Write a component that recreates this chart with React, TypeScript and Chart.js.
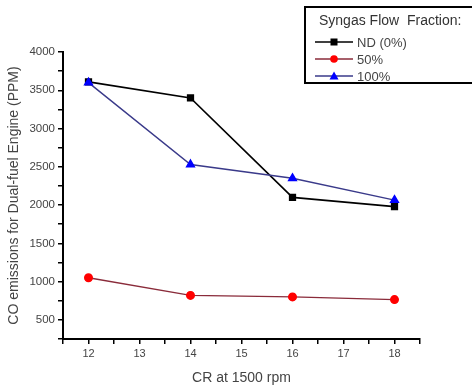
import React, { useEffect, useRef } from "react";
import { Chart, registerables } from "chart.js";

Chart.register(...registerables);

const crValues = [12, 14, 16, 18];
const nd0 = [3610, 3400, 2100, 1980];
const syn50 = [1050, 820, 800, 765];
const syn100 = [3600, 2530, 2350, 2065];
const seriesLabels = ["ND (0%)", "50%", "100%"];
const legendTitle = "Syngas Flow  Fraction:";
const xTitle = "CR at 1500 rpm";
const yTitle = "CO emissions for Dual-fuel Engine (PPM)";

const FONT = "'Liberation Sans', Arial, sans-serif";

const legendPlugin = {
  id: "boxLegend",
  afterDraw(chart: any) {
    const ctx = chart.ctx;
    ctx.save();
    ctx.fillStyle = "#fff";
    ctx.fillRect(305, 7, 180, 76);
    ctx.strokeStyle = "#000";
    ctx.lineWidth = 2;
    ctx.strokeRect(305, 7, 180, 76);
    ctx.font = `14px ${FONT}`;
    ctx.fillStyle = "#333";
    ctx.textBaseline = "middle";
    ctx.fillText(legendTitle, 319, 21);
    const ys = [42, 59, 76];
    [0, 1, 2].forEach((i, k) => {
      const ds = chart.data.datasets[i];
      const y = ys[k];
      ctx.strokeStyle = ds.borderColor;
      ctx.lineWidth = 1.5;
      ctx.beginPath();
      ctx.moveTo(315, y);
      ctx.lineTo(353, y);
      ctx.stroke();
      ctx.fillStyle = ds.pointBackgroundColor;
      const cx = 334;
      if (ds.pointStyle === "rect") {
        ctx.fillRect(cx - 3.5, y - 3.5, 7, 7);
      } else if (ds.pointStyle === "circle") {
        ctx.beginPath();
        ctx.arc(cx, y, 3.8, 0, Math.PI * 2);
        ctx.fill();
      } else {
        ctx.beginPath();
        ctx.moveTo(cx, y - 4.5);
        ctx.lineTo(cx + 4.5, y + 3.5);
        ctx.lineTo(cx - 4.5, y + 3.5);
        ctx.closePath();
        ctx.fill();
      }
      ctx.fillStyle = "#444";
      ctx.font = `13px ${FONT}`;
      ctx.fillText(seriesLabels[i], 357, y + 1);
    });
    ctx.restore();
  },
};

export default function App() {
  const ref = useRef<HTMLCanvasElement | null>(null);
  useEffect(() => {
    if (!ref.current) return;
    const mk = (vals: number[]) => crValues.map((x, i) => ({ x, y: vals[i] }));
    const chart = new Chart(ref.current, {
      type: "line",
      data: {
        datasets: [
          {
            label: seriesLabels[0],
            data: mk(nd0),
            borderColor: "#000",
            backgroundColor: "#000",
            pointBackgroundColor: "#000",
            pointBorderColor: "#000",
            pointStyle: "rect",
            pointRadius: 4,
            borderWidth: 1.6,
            order: 2,
          },
          {
            label: seriesLabels[1],
            data: mk(syn50),
            borderColor: "#8a2b3a",
            backgroundColor: "#ff0000",
            pointBackgroundColor: "#ff0000",
            pointBorderColor: "#ff0000",
            pointStyle: "circle",
            pointRadius: 3.8,
            borderWidth: 1.4,
            order: 1,
          },
          {
            label: seriesLabels[2],
            data: mk(syn100),
            borderColor: "#3a3a8a",
            backgroundColor: "#0000ff",
            pointBackgroundColor: "#0000ff",
            pointBorderColor: "#0000ff",
            pointStyle: "triangle",
            pointRadius: 4.5,
            borderWidth: 1.4,
            order: 0,
          },
        ],
      },
      options: {
        animation: false,
        responsive: false,
        maintainAspectRatio: false,
        layout: { padding: { left: 0, top: 52, right: 52, bottom: 0 } },
        plugins: { legend: { display: false }, tooltip: { enabled: false } },
        scales: {
          x: {
            type: "linear",
            min: 11.5,
            max: 18.5,
            border: { display: true, color: "#000", width: 2 },
            grid: { drawOnChartArea: false, drawTicks: true, tickLength: 5, color: "#000", lineWidth: 1.5 },
            ticks: {
              stepSize: 0.5,
              autoSkip: false,
              maxRotation: 0,
              padding: 3,
              color: "#444",
              font: { family: FONT, size: 11 },
              callback: (v: any) => (Number.isInteger(v) ? String(v) : ""),
            },
            title: {
              display: true,
              text: xTitle,
              color: "#444",
              font: { family: FONT, size: 14 },
              padding: { top: 3, bottom: 0 },
            },
            afterFit: (s: any) => {
              s.height = 48;
            },
          },
          y: {
            type: "linear",
            min: 250,
            max: 4000,
            border: { display: true, color: "#000", width: 2 },
            grid: { drawOnChartArea: false, drawTicks: true, tickLength: 5, color: "#000", lineWidth: 1.5 },
            ticks: {
              stepSize: 250,
              autoSkip: false,
              padding: 3,
              color: "#444",
              font: { family: FONT, size: 11.5 },
              callback: (v: any) => (v % 500 === 0 ? String(v) : ""),
            },
            title: {
              display: true,
              text: yTitle,
              color: "#444",
              font: { family: FONT, size: 14 },
              padding: { top: 6, bottom: 0 },
            },
            afterFit: (s: any) => {
              s.width = 63;
            },
          },
        },
      },
      plugins: [legendPlugin],
    });
    return () => chart.destroy();
  }, []);
  return (
    <div style={{ position: "fixed", left: 0, top: 0, width: 472, height: 387, background: "#fff" }}>
      <canvas ref={ref} width={472} height={387} style={{ width: 472, height: 387 }} />
    </div>
  );
}
